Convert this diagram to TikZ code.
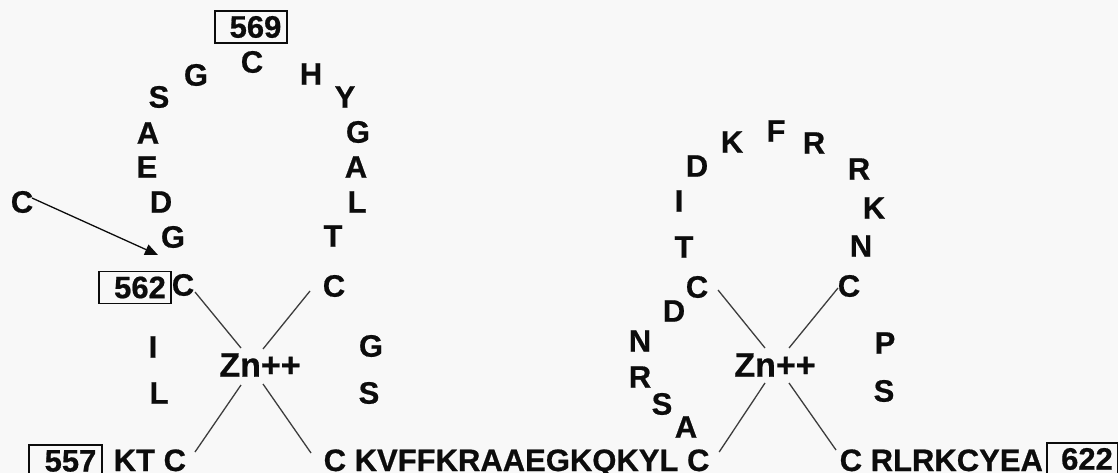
\documentclass[tikz,border=0pt]{standalone}
\usepackage{fontspec}
\setmainfont{Liberation Sans}[BoldFeatures={FakeBold=0.6}]
\usetikzlibrary{arrows.meta}
\definecolor{paper}{RGB}{248,248,248}
\definecolor{ink}{RGB}{12,12,12}
\tikzset{
  res/.style={font=\bfseries\fontsize{31}{31}\selectfont, inner sep=0pt, text=ink},
  seq/.style={res, anchor=base west},
  ion/.style={font=\bfseries\fontsize{34}{34}\selectfont, inner sep=0pt, text=ink},
  numbox/.style={font=\bfseries\fontsize{31}{31}\selectfont, text=ink, draw=ink,
    line width=1.8pt, inner xsep=5.5pt, inner ysep=0pt, minimum height=32pt},
  bond/.style={draw=ink!80, line width=1.3pt},
  pointer/.style={draw=ink, line width=1.3pt, -{Triangle[length=13pt,width=11pt]}}
}
\begin{document}
\begin{tikzpicture}[x=1pt,y=-1pt]
\fill[paper] (0,0) rectangle (1118,473);
\useasboundingbox (0,0) rectangle (1118,473);

% ---------- first zinc finger ----------
\node[numbox] (b569) at (251,27) {\hspace*{9pt}569};
\node[res] (l1)  at (252,62)  {C};
\node[res] (l2)  at (196,75)  {G};
\node[res] (l3)  at (311,74)  {H};
\node[res] (l4)  at (159,97)  {S};
\node[res] (l5)  at (345,97)  {Y};
\node[res] (l6)  at (148,133) {A};
\node[res] (l7)  at (358,132) {G};
\node[res] (l8)  at (147,167) {E};
\node[res] (l9)  at (356,167) {A};
\node[res] (l10) at (161,202) {D};
\node[res] (l11) at (357,202) {L};
\node[res] (cext) at (22,202) {C};
\node[res] (l12) at (173,237) {G};
\node[res] (l13) at (333,236) {T};
\node[numbox] (b562) at (135,287.5) {\hspace*{10pt}562};
\node[res] (cL1) at (183,285) {C};
\node[res] (cL2) at (334,286) {C};
\node[res] (l14) at (153,347) {I};
\node[res] (l15) at (371,346) {G};
\node[res] (l16) at (159,393) {L};
\node[res] (l17) at (369,393) {S};
\node[ion] (znL) at (260,365) {Zn++};

% ---------- second zinc finger ----------
\node[res] (r1)  at (697,166) {D};
\node[res] (r2)  at (732,142) {K};
\node[res] (r3)  at (776,131) {F};
\node[res] (r4)  at (814,143) {R};
\node[res] (r5)  at (859,169) {R};
\node[res] (r6)  at (874,208) {K};
\node[res] (r7)  at (679,201) {I};
\node[res] (r8)  at (861,246) {N};
\node[res] (r9)  at (684,247) {T};
\node[res] (cR1) at (697,287) {C};
\node[res] (cR2) at (849,286) {C};
\node[res] (r10) at (674,311) {D};
\node[res] (r11) at (640,341) {N};
\node[res] (r12) at (640,377) {R};
\node[res] (r13) at (662,404) {S};
\node[res] (r14) at (686,427) {A};
\node[res] (r15) at (885,343) {P};
\node[res] (r16) at (884,391) {S};
\node[ion] (znR) at (775,365) {Zn++};

% ---------- linear stretches ----------
\node[numbox] (b557) at (65.5,461) {\hspace*{10pt}557};
\node[seq] (ktc) at (113.5,471) {KT C};
\node[seq] (mid) at (323.5,471) {C KVFFKRAAEGKQKYL C};
\node[seq] (tail) at (839.5,471) {C RLRKCYEA};
\node[numbox] (b622) at (1082.5,459) {\hspace*{9pt}622};

% ---------- cysteine--zinc bonds ----------
\draw[bond] ([shift={(12,7)}]cL1.center) -- ([shift={(-19,-17)}]znL.center);
\draw[bond] ([shift={(-24,5)}]cL2.center) -- ([shift={(3,-16)}]znL.center);
\draw[bond] ([shift={(81.5,-19)}]ktc.base west) -- ([shift={(-19,20)}]znL.center);
\draw[bond] ([shift={(-12.5,-18)}]mid.base west) -- ([shift={(3,19)}]znL.center);

\draw[bond] ([shift={(21,3)}]cR1.center) -- ([shift={(-10,-17)}]znR.center);
\draw[bond] ([shift={(-11,2)}]cR2.center) -- ([shift={(14,-17)}]znR.center);
\draw[bond] ([shift={(9.5,-19)}]mid.base east) -- ([shift={(-10,18)}]znR.center);
\draw[bond] ([shift={(-3.5,-21)}]tail.base west) -- ([shift={(14,18)}]znR.center);

% ---------- substitution pointer ----------
\draw[pointer] ([shift={(10,-4)}]cext.center) -- ([shift={(-15,18)}]l12.center);
\end{tikzpicture}
\end{document}
